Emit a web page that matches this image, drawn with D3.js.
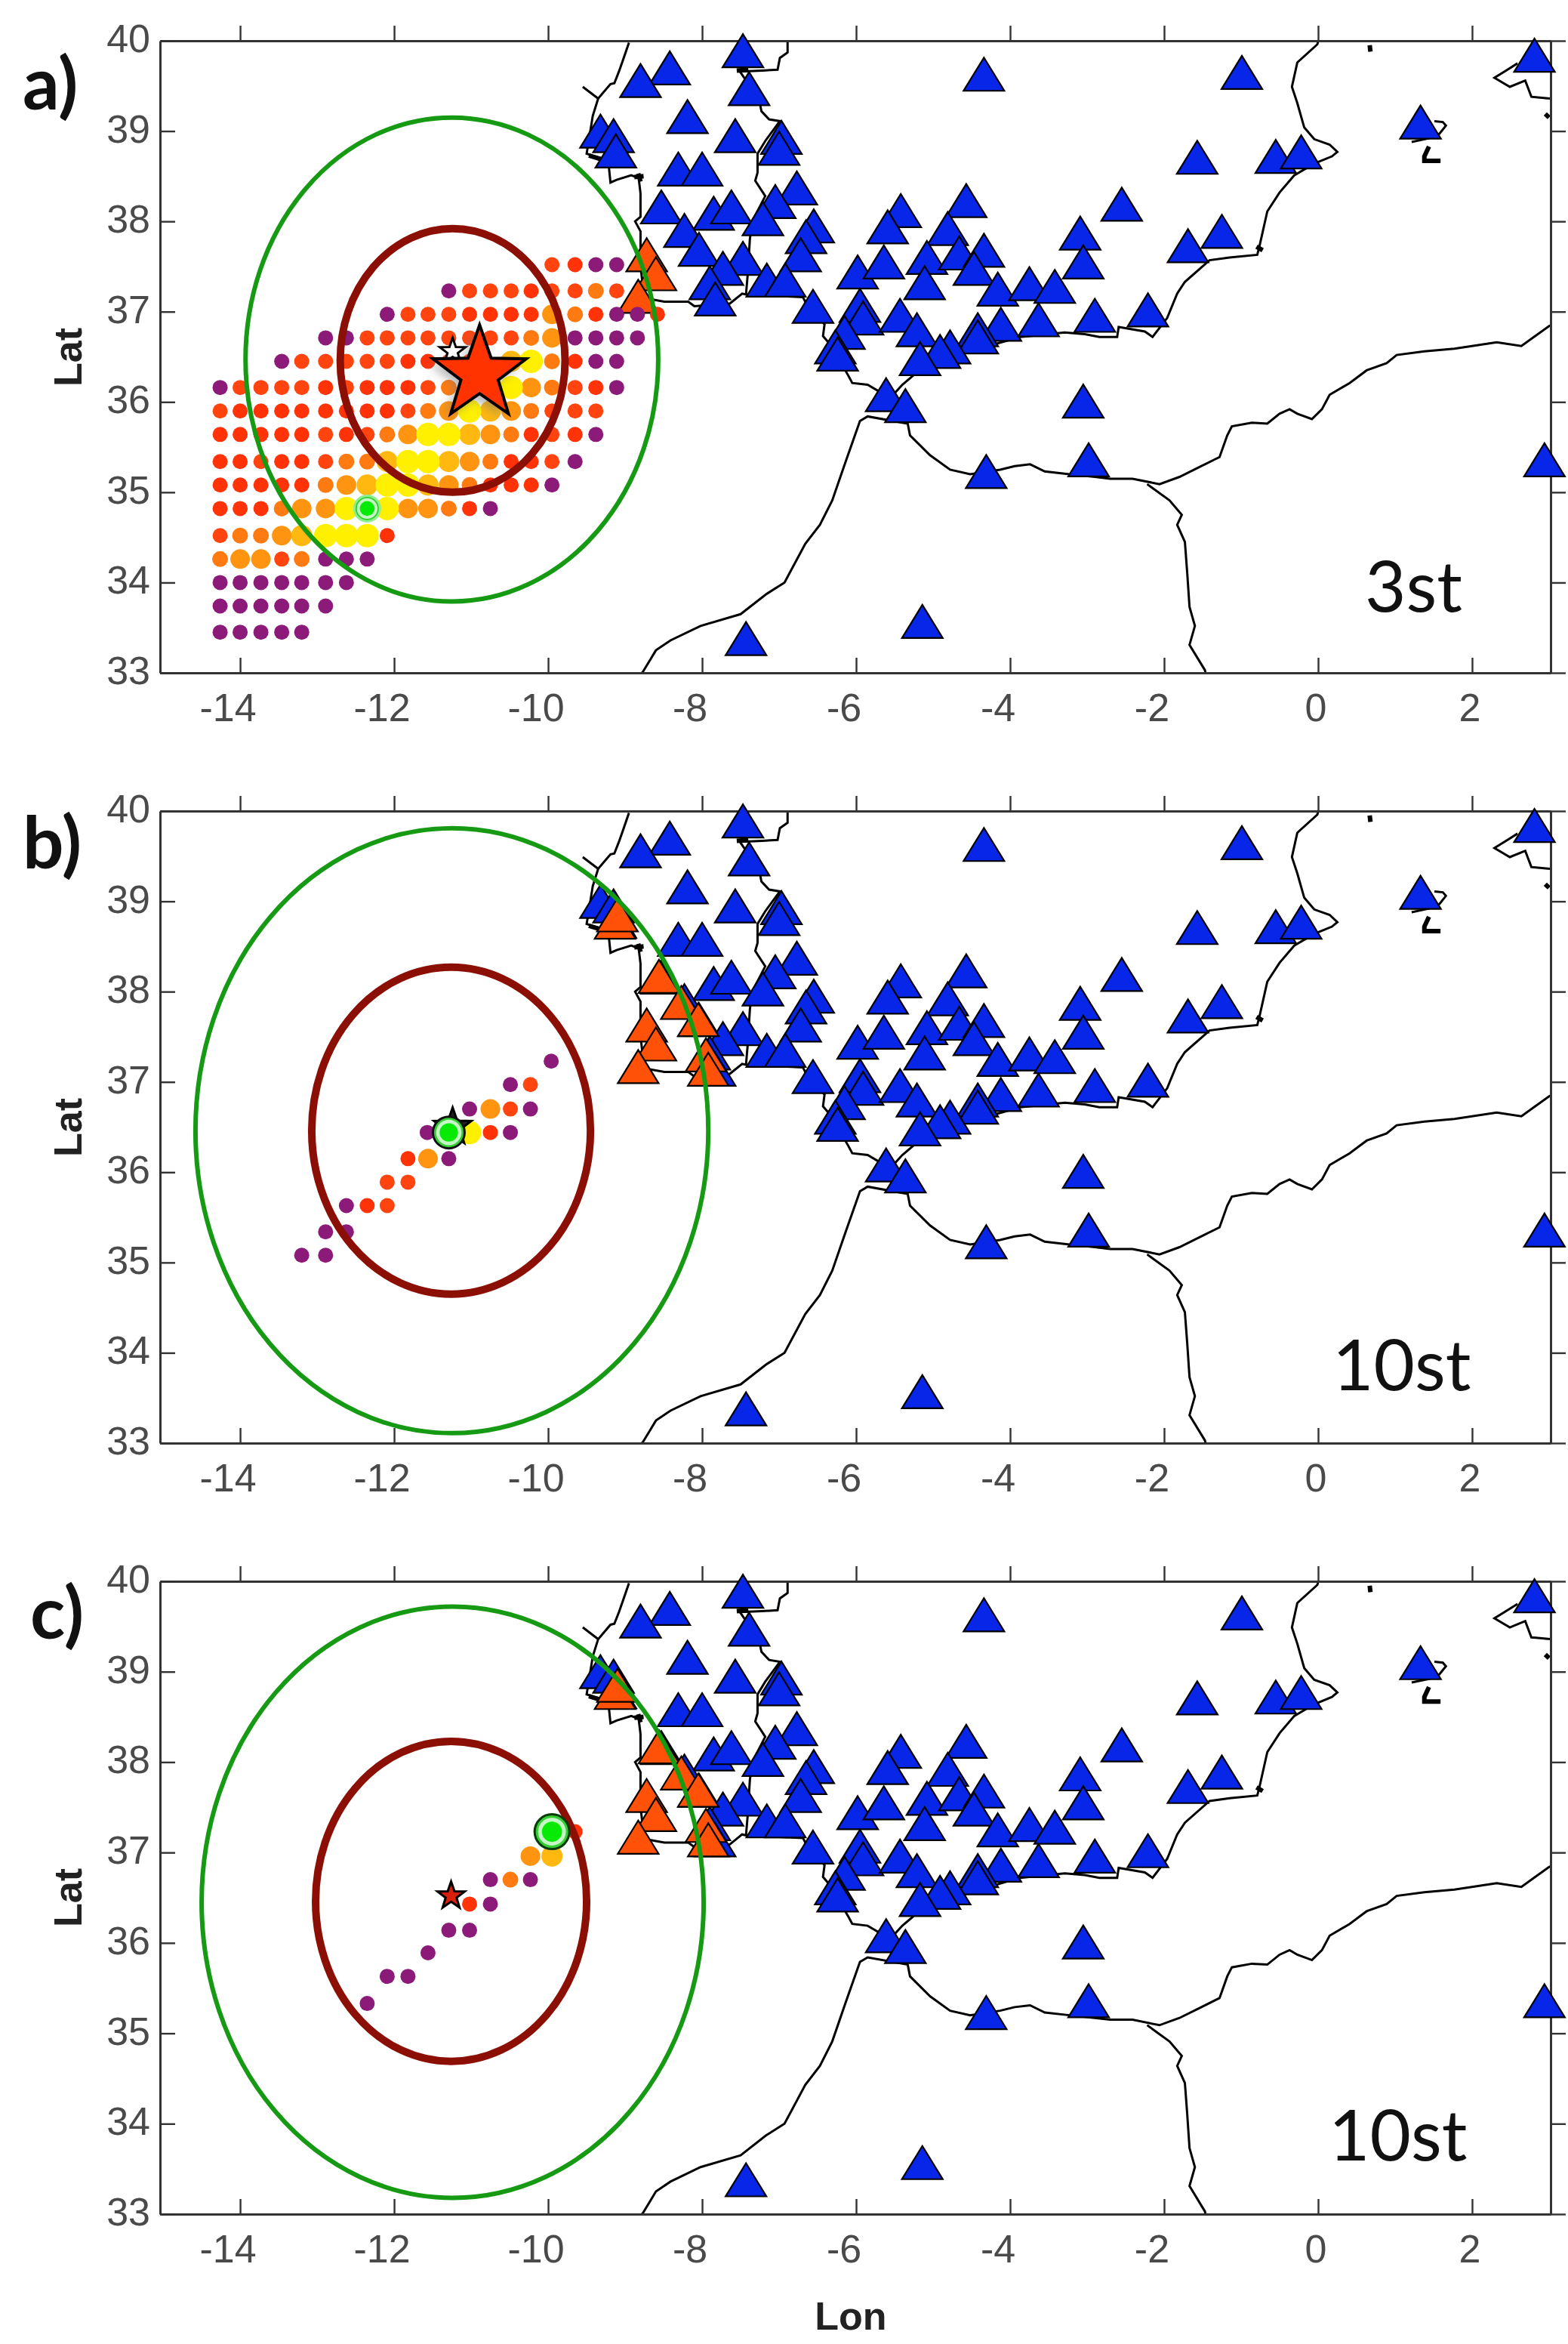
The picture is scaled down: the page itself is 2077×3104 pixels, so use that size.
<!DOCTYPE html>
<html>
<head>
<meta charset="utf-8">
<script src="https://cdn.jsdelivr.net/npm/d3@7/dist/d3.min.js"></script>
<style>
  body { margin: 0; background: #fff; }
  text { font-family: "Liberation Sans", Arial, sans-serif; }
  .tick-label { font-size: 52px; fill: #4a4a4a; }
  .axis-title { font-size: 52px; font-weight: bold; fill: #222; }
  .panel-tag { font-family: Lato, sans-serif; font-size: 96px; font-weight: bold; fill: #111; }
  .st-label { font-family: Lato, sans-serif; font-size: 94px; fill: #111; }
</style>
</head>
<body>
<div id="root"></div>
<script>
const lonTicks = [-14, -12, -10, -8, -6, -4, -2, 0, 2];
const latTicks = [33, 34, 35, 36, 37, 38, 39, 40];

// stations, lon / lat
const stationLon = [-7.47,-8.42,-8.80,-7.39,-8.19,-9.32,-9.15,-9.12,-7.57,-6.97,-7.00,-8.31,-8.00,-8.53,-6.77,-7.05,-7.85,-7.62,-7.21,-8.23,-8.04,-7.47,-6.55,-6.65,-6.72,-7.73,-7.90,-7.83,-7.16,-6.92,-6.56,
  -4.34,-0.99,2.81,1.33,-1.57,-0.55,-0.22,-2.55,-4.57,-5.42,-1.25,-1.69,-3.09,-3.05,-5.59,-4.81,-5.08,-4.66,-4.34,-4.47,-5.98,-5.64,-5.11,-4.16,-3.75,-3.42,-5.95,-5.91,-5.43,-5.21,-2.90,-2.21,-4.12,-3.63,-4.42,-4.42,-4.78,-4.91,-5.17,-6.15,-6.27,-6.24,-5.61,-5.36,-3.05,-2.98,-4.31,2.94,-5.14,-7.43];
const stationLat = [39.89,39.70,39.56,39.47,39.16,39.00,38.95,38.78,38.95,38.93,38.81,38.58,38.58,38.16,38.37,38.22,38.09,38.16,38.03,37.90,37.69,37.59,37.95,37.83,37.63,37.48,37.32,37.14,37.35,37.35,37.06,
  39.63,39.65,39.84,39.10,38.71,38.72,38.77,38.19,38.23,38.12,37.89,37.73,37.87,37.55,37.94,37.92,37.60,37.65,37.68,37.48,37.44,37.55,37.32,37.25,37.31,37.28,37.07,36.93,36.96,36.80,36.96,37.02,36.86,36.91,36.80,36.72,36.61,36.56,36.48,36.77,36.61,36.53,36.08,35.96,36.01,35.36,35.23,35.36,33.57,33.38];

// triggered stations per panel
const usedA = [[-8.72,37.63],[-8.60,37.42],[-8.83,37.17]];
const usedB = [[-8.72,37.63],[-8.60,37.42],[-8.83,37.17],[-9.13,38.77],[-9.10,38.85],[-8.56,38.17],[-8.27,37.88],[-8.05,37.69],[-7.95,37.30],[-7.92,37.14]];

// misfit grid of panel a, level 0 purple .. 6 yellow, null = no node
const gridLon = [-14.26,-14.0,-13.73,-13.46,-13.20,-12.89,-12.62,-12.35,-12.09,-11.82,-11.56,-11.29,-11.02,-10.75,-10.48,-10.22,-9.95,-9.65,-9.38,-9.11,-8.84,-8.58];
const gridLat = [37.52,37.23,36.97,36.71,36.45,36.16,35.90,35.64,35.34,35.08,34.82,34.52,34.26,34.00,33.74,33.45];
const _ = null;
const gridLevels = [
  [_,_,_,_,_,_,_,_,_,_,_,_,_,_,_,_,2,1,0,0,_,_],
  [_,_,_,_,_,_,_,_,_,_,_,0,2,2,2,1,2,2,3,2,_,_],
  [_,_,_,_,_,_,_,_,0,2,2,2,1,1,1,1,4,3,1,0,0,1],
  [_,_,_,_,_,0,0,2,2,2,2,2,2,2,2,3,4,0,0,0,0,_],
  [_,_,_,0,2,2,2,2,2,1,1,2,2,_,5,6,3,1,0,0,_,_],
  [0,2,2,2,2,1,2,1,1,1,2,3,5,6,6,4,3,2,1,0,_,_],
  [2,1,1,1,1,1,1,1,1,2,3,4,6,5,4,3,2,2,2,_,_,_],
  [1,1,1,1,1,2,1,2,3,4,6,6,5,4,3,1,2,1,0,_,_,_],
  [1,1,2,1,1,2,3,3,5,6,6,5,4,3,1,1,2,0,_,_,_,_],
  [1,1,1,1,1,3,4,5,6,6,5,4,3,1,1,1,0,_,_,_,_,_],
  [1,1,1,3,4,4,6,6,6,4,4,3,1,0,_,_,_,_,_,_,_,_],
  [2,3,3,4,5,6,6,6,1,_,_,_,_,_,_,_,_,_,_,_,_,_],
  [3,4,4,2,3,0,0,0,_,_,_,_,_,_,_,_,_,_,_,_,_,_],
  [0,0,0,0,0,0,0,_,_,_,_,_,_,_,_,_,_,_,_,_,_,_],
  [0,0,0,0,0,0,_,_,_,_,_,_,_,_,_,_,_,_,_,_,_,_],
  [0,0,0,0,0,_,_,_,_,_,_,_,_,_,_,_,_,_,_,_,_,_]
];

// panel b and c nodes: lon, lat, level
const dotsB = [[-9.96,37.23,0],[-10.49,36.97,0],[-10.23,36.97,2],[-11.02,36.70,0],[-10.75,36.70,4],[-10.49,36.70,2],[-10.23,36.70,0],[-11.57,36.44,0],[-11.02,36.44,6],[-10.75,36.44,1],[-10.49,36.44,0],[-11.82,36.15,1],[-11.56,36.15,4],[-11.29,36.15,0],[-12.09,35.89,2],[-11.82,35.89,2],[-12.62,35.63,0],[-12.35,35.63,1],[-12.09,35.63,2],[-12.89,35.34,0],[-12.62,35.34,0],[-13.20,35.08,0],[-12.89,35.08,0]];
const dotsC = [[-9.65,37.23,1],[-10.23,36.96,4],[-9.95,36.96,5],[-10.75,36.70,0],[-10.49,36.70,3],[-10.23,36.70,0],[-11.02,36.43,1],[-10.75,36.43,0],[-11.29,36.14,0],[-11.02,36.14,0],[-11.56,35.89,0],[-12.09,35.63,0],[-11.82,35.63,0],[-12.35,35.33,0]];

// location uncertainty ellipses: lon, lat, rx, ry (degrees)
const ellipsesA = [[-11.25,36.47,2.68,2.68],[-11.24,36.46,1.46,1.46]];
const ellipsesB = [[-11.25,36.46,3.33,3.35],[-11.26,36.46,1.81,1.81]];
const ellipsesC = [[-11.24,36.45,3.26,3.27],[-11.26,36.46,1.76,1.77]];

// coastlines and borders
const coastIberia = [[-8.95,39.98],[-9.03,39.78],[-9.08,39.66],[-9.14,39.53],[-9.19,39.52],[-9.35,39.36],[-9.55,39.49],[-9.35,39.36],[-9.42,39.17],[-9.48,38.85],[-9.50,38.75],[-9.40,38.72],[-9.22,38.68],[-9.19,38.43],[-9.11,38.46],[-8.92,38.51],[-8.80,38.47],[-8.82,38.45],[-8.80,38.31],[-8.80,38.05],[-8.87,38.00],[-8.80,37.89],[-8.80,37.50],[-8.75,37.15],[-8.49,37.11],[-8.18,37.11],[-8.10,37.06],[-7.64,37.09],[-7.48,37.20],[-7.43,37.19],[-6.69,37.16],[-6.66,37.11],[-6.41,36.86],[-6.43,36.73],[-6.33,36.63],[-6.10,36.29],[-6.05,36.21],[-5.85,36.19],[-5.69,36.11],[-5.55,36.05],[-5.40,36.19],[-5.11,36.40],[-4.20,36.64],[-3.87,36.72],[-3.29,36.77],[-3.03,36.75],[-2.84,36.72],[-2.61,36.72],[-2.59,36.83],[-2.25,36.78],[-2.15,36.72],[-1.96,36.93],[-1.83,37.20],[-1.73,37.33],[-1.41,37.57],[-1.15,37.60],[-0.79,37.63],[-0.76,37.73],[-0.66,38.11],[-0.50,38.32],[-0.31,38.51],[-0.05,38.64],[0.18,38.72],[0.25,38.77],[0.15,38.85],[-0.05,38.91],[-0.18,39.04],[-0.27,39.31],[-0.34,39.49],[-0.27,39.76],[-0.01,39.96],[0.02,40.05]];
const borderPortugal = [[-6.89,40.05],[-6.89,39.87],[-6.99,39.81],[-7.02,39.68],[-7.22,39.67],[-7.51,39.66],[-7.38,39.50],[-7.25,39.31],[-7.23,39.22],[-7.13,39.13],[-6.99,39.11],[-7.18,38.89],[-7.28,38.75],[-7.28,38.54],[-7.31,38.45],[-7.18,38.28],[-7.35,38.00],[-7.38,37.80],[-7.41,37.39],[-7.43,37.19]];
const coastAfrica = [[-8.85,32.95],[-8.77,33.01],[-8.67,33.15],[-8.60,33.25],[-8.41,33.36],[-8.02,33.52],[-7.50,33.65],[-7.17,33.87],[-6.93,34.00],[-6.66,34.43],[-6.47,34.64],[-6.31,34.91],[-6.14,35.33],[-5.95,35.79],[-5.85,35.84],[-5.33,35.76],[-5.30,35.63],[-5.04,35.41],[-4.78,35.25],[-4.52,35.20],[-4.13,35.25],[-3.94,35.29],[-3.74,35.31],[-3.55,35.23],[-3.23,35.20],[-2.90,35.17],[-2.70,35.15],[-2.41,35.15],[-2.06,35.09],[-1.80,35.17],[-1.54,35.28],[-1.28,35.39],[-1.18,35.63],[-1.12,35.73],[-0.86,35.77],[-0.66,35.76],[-0.50,35.87],[-0.37,35.92],[-0.27,35.87],[-0.08,35.81],[0.05,35.92],[0.15,36.08],[0.41,36.21],[0.63,36.35],[0.89,36.43],[1.02,36.52],[1.38,36.56],[1.77,36.59],[2.32,36.66],[2.64,36.62],[3.00,36.84],[3.10,36.88]];
const borderMorocco = [[-2.22,35.09],[-1.93,34.91],[-1.77,34.75],[-1.83,34.64],[-1.73,34.45],[-1.70,34.11],[-1.67,33.73],[-1.60,33.52],[-1.67,33.31],[-1.47,33.03],[-1.45,32.95]];
const coastMallorca = [[2.59,39.75],[2.46,39.68],[2.29,39.59],[2.49,39.49],[2.69,39.56],[2.77,39.38],[3.01,39.36]];
const coastIbiza = [[1.51,39.11],[1.62,39.10],[1.66,39.06],[1.575,38.97],[1.44,38.92],[1.215,38.88]];
const coastline = [coastIberia, borderPortugal, coastAfrica, borderMorocco, coastMallorca, coastIbiza];

// small islets and bays that print as black blobs
const coastBlobs = [[[-9.47,38.73],[-9.32,38.69]],[[-8.88,38.49],[-8.76,38.50]],[[-8.83,38.53],[-8.80,38.44]],[[-0.80,37.72],[-0.72,37.68]],[[1.44,38.83],[1.38,38.72],[1.38,38.67],[1.59,38.67]],[[2.95,39.19],[3.00,39.15]],[[0.67,39.95],[0.68,39.88]],[[-7.40,39.68],[-7.55,39.67]]];

const levelColor = ['#8b1a78', '#ff3208', '#ff4410', '#ff7a10', '#ff9410', '#ffb810', '#fff000'];
const levelRadius = [10, 10, 10, 10.5, 13, 14, 15.5];

const svg = d3.select('#root').append('svg')
  .attr('width', 2077)
  .attr('height', 3104);

const x = d3.scaleLinear().domain([-15.04, 3.02]).range([212, 2054]);
const triangle = {
  draw(ctx, size) {
    ctx.moveTo(0, -22);
    ctx.lineTo(27, 22);
    ctx.lineTo(-27, 22);
    ctx.closePath();
  }
};
const starPath = d3.lineRadial().curve(d3.curveLinearClosed);

function starPoints(r) {
  return d3.range(10).map((i) => [i * Math.PI / 5, i % 2 ? r * 0.4 : r]);
}

function drawStar(g, y, lon, lat, r, fill) {
  g.append('path')
    .attr('transform', `translate(${x(lon)}, ${y(lat)})`)
    .attr('d', starPath(starPoints(r)))
    .attr('fill', fill)
    .attr('stroke', '#000')
    .attr('stroke-width', r > 40 ? 4 : 3)
    .attr('stroke-linejoin', 'miter');
}

function drawEpicenter(g, y, lon, lat, r, outline) {
  g.append('circle').attr('cx', x(lon)).attr('cy', y(lat)).attr('r', r)
    .attr('fill', '#35cf35').attr('stroke', outline).attr('stroke-width', 3);
  g.append('circle').attr('cx', x(lon)).attr('cy', y(lat)).attr('r', r * 0.8)
    .attr('fill', '#c4f7c4');
  g.append('circle').attr('cx', x(lon)).attr('cy', y(lat)).attr('r', r * 0.58)
    .attr('fill', '#06ea06');
}

function drawPanel(cfg) {
  const y = d3.scaleLinear().domain([33, 40]).range([cfg.bottom, cfg.top]);
  const g = svg.append('g');
  const clipId = `clip-${cfg.name}`;

  svg.append('clipPath').attr('id', clipId)
    .append('rect')
    .attr('x', 212).attr('y', cfg.top)
    .attr('width', 1842).attr('height', cfg.bottom - cfg.top);

  // coast
  const coast = d3.line().x((d) => x(d[0])).y((d) => y(d[1]));
  const coastG = g.append('g').attr('clip-path', `url(#${clipId})`);
  coastG.selectAll('.coast')
    .data(coastline)
    .enter().append('path')
      .attr('class', 'coast')
      .attr('d', coast)
      .attr('fill', 'none')
      .attr('stroke', '#000')
      .attr('stroke-width', 3);
  coastG.selectAll('.blob')
    .data(coastBlobs)
    .enter().append('path')
      .attr('class', 'blob')
      .attr('d', coast)
      .attr('fill', 'none')
      .attr('stroke', '#000')
      .attr('stroke-width', 6);

  // axes box with inward ticks on all sides
  const axes = [
    { axis: d3.axisBottom(x), at: [0, cfg.bottom] },
    { axis: d3.axisTop(x), at: [0, cfg.top] },
    { axis: d3.axisLeft(y), at: [212, 0] },
    { axis: d3.axisRight(y), at: [2054, 0] }
  ];
  axes.forEach((a, i) => {
    const isX = i < 2;
    const ag = g.append('g')
      .attr('transform', `translate(${a.at[0]}, ${a.at[1]})`)
      .call(a.axis.tickValues(isX ? lonTicks : latTicks).tickFormat('').tickSize(i % 2 === 0 ? -20 : 20).tickSizeOuter(0));
    ag.selectAll('.tick line').attr('stroke', '#333').attr('stroke-width', 2.4);
    ag.selectAll('.domain').attr('stroke', '#333').attr('stroke-width', 3);
  });

  g.selectAll('.x-label')
    .data(lonTicks)
    .enter().append('text')
      .attr('class', 'tick-label')
      .attr('x', (d) => x(d) + (d < 0 ? -16 : -3))
      .attr('y', cfg.bottom + 64)
      .attr('text-anchor', 'middle')
      .text((d) => d);

  g.selectAll('.y-label')
    .data(latTicks)
    .enter().append('text')
      .attr('class', 'tick-label')
      .attr('x', 199)
      .attr('y', (d) => y(d) + 15)
      .attr('text-anchor', 'end')
      .text((d) => d);

  g.append('text')
    .attr('class', 'axis-title')
    .attr('transform', `translate(108, ${cfg.top + 419}) rotate(-90)`)
    .attr('text-anchor', 'middle')
    .text('Lat');

  // blue stations first, triggered ones on top
  g.append('g').selectAll('path')
    .data(d3.range(stationLon.length))
    .enter().append('path')
      .attr('transform', (i) => `translate(${x(stationLon[i])}, ${y(stationLat[i])})`)
      .attr('d', d3.symbol().type(triangle))
      .attr('fill', '#0826e8')
      .attr('stroke', '#000')
      .attr('stroke-width', 2.2);

  g.append('g').selectAll('path')
    .data(cfg.used)
    .enter().append('path')
      .attr('transform', (d) => `translate(${x(d[0])}, ${y(d[1])})`)
      .attr('d', d3.symbol().type(triangle))
      .attr('fill', '#ff5208')
      .attr('stroke', '#000')
      .attr('stroke-width', 2.2);

  // grid nodes, strongest drawn last
  g.append('g').selectAll('circle')
    .data(cfg.dots.slice().sort((a, b) => a[2] - b[2]))
    .enter().append('circle')
      .attr('cx', (d) => x(d[0]))
      .attr('cy', (d) => y(d[1]))
      .attr('r', (d) => levelRadius[d[2]])
      .attr('fill', (d) => levelColor[d[2]]);

  g.append('g').selectAll('ellipse')
    .data(cfg.ellipses)
    .enter().append('ellipse')
      .attr('cx', (d) => x(d[0]))
      .attr('cy', (d) => y(d[1]))
      .attr('rx', (d) => x(d[0] + d[2]) - x(d[0]))
      .attr('ry', (d) => y(d[1] - d[3]) - y(d[1]))
      .attr('fill', 'none')
      .attr('stroke', (d, i) => i === 0 ? '#169a14' : '#8c0f05')
      .attr('stroke-width', (d, i) => i === 0 ? 6 : 10);

  cfg.extras(g, y);

  g.append('text')
    .attr('class', 'panel-tag')
    .attr('x', cfg.tagX)
    .attr('y', cfg.tagY)
    .text(cfg.name + ')');

  g.append('text')
    .attr('class', 'st-label')
    .attr('x', cfg.stX)
    .attr('y', cfg.stY)
    .text(cfg.st);
}

const dotsA = [];
gridLevels.forEach((row, r) => row.forEach((level, c) => {
  if (level !== null) dotsA.push([gridLon[c], gridLat[r], level]);
}));

const defs = svg.append('defs');
defs.append('filter').attr('id', 'soft').attr('x', '-30%').attr('y', '-30%').attr('width', '160%').attr('height', '160%')
  .append('feGaussianBlur').attr('stdDeviation', 7);

drawPanel({
  name: 'a', top: 54, bottom: 891, used: usedA, dots: dotsA, ellipses: ellipsesA,
  tagX: 30, tagY: 145, stX: 1808, stY: 810, st: '3st',
  extras(g, y) {
    drawEpicenter(g, y, -12.35, 34.82, 17, '#8cf08c');
    drawStar(g, y, -11.24, 36.56, 18, '#fff');
    g.append('path')
      .attr('transform', `translate(${x(-10.89) - 6}, ${y(36.31) + 6})`)
      .attr('d', starPath(starPoints(65)))
      .attr('fill', '#777')
      .attr('opacity', 0.55)
      .attr('filter', 'url(#soft)');
    drawStar(g, y, -10.89, 36.31, 65, '#ff3300');
  }
});

drawPanel({
  name: 'b', top: 1074, bottom: 1911, used: usedB, dots: dotsB, ellipses: ellipsesB,
  tagX: 30, tagY: 1150, stX: 1765, stY: 1841, st: '10st',
  extras(g, y) {
    drawStar(g, y, -11.24, 36.50, 26, '#222');
    drawEpicenter(g, y, -11.29, 36.44, 21, '#111');
  }
});

drawPanel({
  name: 'c', top: 2094, bottom: 2932, used: usedB, dots: dotsC, ellipses: ellipsesC,
  tagX: 40, tagY: 2170, stX: 1760, stY: 2861, st: '10st',
  extras(g, y) {
    drawStar(g, y, -11.26, 36.52, 19, '#d8200c');
    drawEpicenter(g, y, -9.95, 37.23, 23, '#063a06');
  }
});

svg.append('text')
  .attr('class', 'axis-title')
  .attr('x', 1127)
  .attr('y', 3085)
  .attr('text-anchor', 'middle')
  .text('Lon');
</script>
</body>
</html>
